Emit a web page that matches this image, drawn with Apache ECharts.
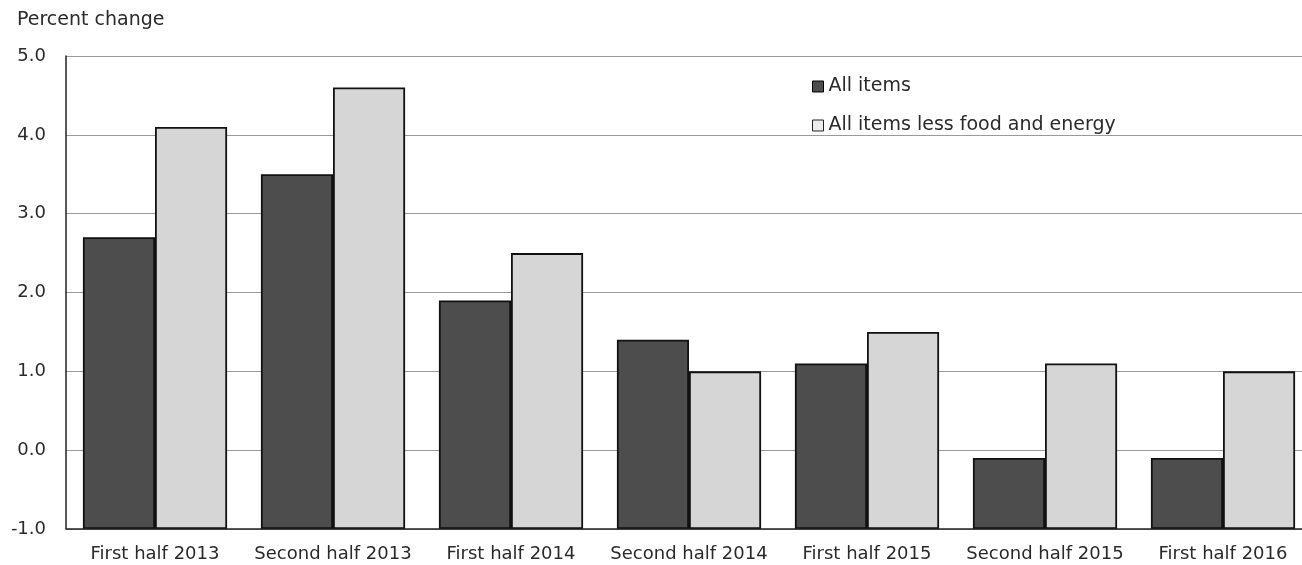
<!DOCTYPE html>
<html>
<head>
<meta charset="utf-8">
<script src="https://cdn.jsdelivr.net/npm/echarts@6/dist/echarts.min.js"></script>
<style>html,body{margin:0;padding:0;background:#fff;overflow:hidden;width:1302px;height:565px}#c{width:1312px;height:565px}</style>
</head>
<body>
<div id="c"></div>
<script>
const categories = ["First half 2013","Second half 2013","First half 2014","Second half 2014","First half 2015","Second half 2015","First half 2016"];
const allItems = [2.7, 3.5, 1.9, 1.4, 1.1, -0.1, -0.1];
const coreItems = [4.1, 4.6, 2.5, 1.0, 1.5, 1.1, 1.0];
const yTicks = ["-1.0","0.0","1.0","2.0","3.0","4.0","5.0"];

const chart = echarts.init(document.getElementById('c'));
const font = 'DejaVu Sans, Verdana, sans-serif';
const txt = '#2a2a2a';
chart.setOption({
  animation: false,
  textStyle: {fontFamily: font},
  graphic: [
    {type:'text', left: 17, top: 11, style:{text:'Percent change', font:'19px ' + font, fill:txt}},
    {type:'line', shape:{x1:66, y1:529, x2:1312, y2:529}, style:{stroke:'#222', lineWidth:1.5}, z:10}
  ],
  legend: {
    orient: 'vertical', left: 807, top: 72, itemGap: 20,
    itemWidth: 11, itemHeight: 11, icon: 'rect',
    textStyle: {fontSize: 19, color: txt, fontFamily: font},
    data: [
      {name:'All items', itemStyle:{color:'#4d4d4d', borderColor:'#000', borderWidth:1}},
      {name:'All items less food and energy', itemStyle:{color:'#ececec', borderColor:'#222', borderWidth:1}}
    ]
  },
  grid: {left: 66, top: 56, right: 0, height: 473, containLabel:false},
  xAxis: {
    type:'category', data: categories,
    axisLine:{show:false}, axisTick:{show:false},
    axisLabel:{fontSize:18, color:txt, margin:16, fontFamily: font, interval:0}
  },
  yAxis: {
    type:'value', min:-1, max:5, interval:1, startValue: -1,
    axisLine:{show:true, lineStyle:{color:'#222', width:1.5}},
    axisTick:{show:false},
    splitLine:{lineStyle:{color:'#9a9a9a', width:1.2}},
    axisLabel:{fontSize:18, color:txt, margin:20, fontFamily: font,
      formatter: v => yTicks[Math.round(v)+1]}
  },
  series: [
    {name:'All items', type:'bar', data: allItems, barGap:'0%', barCategoryGap:'19%',
     itemStyle:{color:'#4d4d4d', borderColor:'#111', borderWidth:1.8}},
    {name:'All items less food and energy', type:'bar', data: coreItems,
     itemStyle:{color:'#d6d6d6', borderColor:'#111', borderWidth:1.8}}
  ]
});
</script>
</body>
</html>
